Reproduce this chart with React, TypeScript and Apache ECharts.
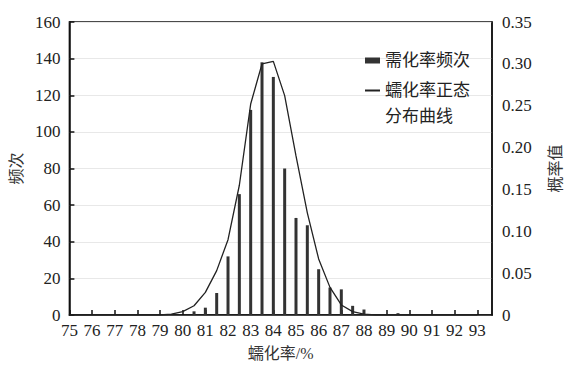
import React, { useEffect, useRef } from "react";
import * as echarts from "echarts";

const barX = [80.5, 81, 81.5, 82, 82.5, 83, 83.5, 84, 84.5, 85, 85.5, 86, 86.5, 87, 87.5, 88, 89.5];
const barY = [2, 4, 12, 32, 66, 112, 138, 130, 80, 53, 49, 25, 15, 14, 5, 3, 1];

const lineX = [75, 76, 77, 78, 79, 79.5, 80, 80.5, 81, 81.5, 82, 82.5, 83, 83.5, 84, 84.5, 85, 85.5, 86, 86.5, 87, 87.5, 88, 88.5, 89, 90, 91, 92, 93];
const lineY = [0, 0, 0, 0, 0, 0.001, 0.004, 0.011, 0.027, 0.053, 0.09, 0.155, 0.252, 0.3, 0.303, 0.262, 0.19, 0.122, 0.067, 0.033, 0.012, 0.004, 0.001, 0, 0, 0, 0, 0, 0];

const leftTicks = { min: 0, max: 160, interval: 20 };
const rightTicks = { min: 0, max: 0.35, interval: 0.05 };
const xRange = { min: 75, max: 93.65, interval: 1 };

const barName = "需化率频次";
const lineName = "蠕化率正态";
const lineName2 = "分布曲线";

const SERIF = "Times New Roman, Liberation Serif, DejaVu Serif, serif";
const CJK = "Times New Roman, Liberation Serif, Noto Sans CJK SC, serif";

export default function App() {
  const ref = useRef<HTMLDivElement>(null);
  useEffect(() => {
    if (!ref.current) return;
    const chart = echarts.init(ref.current, undefined, { renderer: "svg" });
    const axisColor = "#111";
    chart.setOption({
      animation: false,
      backgroundColor: "#fff",
      textStyle: { fontFamily: SERIF },
      grid: {
        left: 66,
        right: 79,
        top: 22,
        bottom: 56,
        show: true,
        borderColor: axisColor,
        borderWidth: 1.5,
        backgroundColor: "transparent",
      },
      legend: [
        {
          data: [{ name: barName, icon: "rect" }],
          left: 365,
          top: 52,
          padding: 0,
          itemWidth: 15,
          itemHeight: 6,
          itemGap: 4,
          textStyle: { fontFamily: CJK, fontSize: 17, color: "#222" },
        },
        {
          data: [{ name: lineName, icon: "rect", itemStyle: { color: "#222" } }],
          left: 365,
          top: 82,
          padding: 0,
          itemWidth: 15,
          itemHeight: 2,
          textStyle: { fontFamily: CJK, fontSize: 17, color: "#222" },
        },
      ],
      graphic: [
        {
          type: "text",
          left: 385,
          top: 108,
          style: { text: lineName2, fontFamily: CJK, fontSize: 17, fill: "#222" },
        },
      ],
      xAxis: {
        type: "value",
        min: xRange.min,
        max: xRange.max,
        interval: xRange.interval,
        name: "蠕化率/%",
        nameLocation: "middle",
        nameGap: 30,
        nameTextStyle: { fontFamily: CJK, fontSize: 16, color: "#333" },
        axisLine: { show: true, lineStyle: { color: axisColor, width: 1.5 } },
        axisTick: { show: true, inside: true, length: 5, lineStyle: { color: axisColor, width: 1.5 } },
        axisLabel: {
          show: true,
          interval: 0,
          margin: 7,
          showMaxLabel: false,
          fontFamily: SERIF,
          fontSize: 17,
          color: "#222",
          formatter: (v: number) => (Number.isInteger(v) ? String(v) : ""),
        },
        splitLine: { show: false },
      },
      yAxis: [
        {
          type: "value",
          position: "left",
          min: leftTicks.min,
          max: leftTicks.max,
          interval: leftTicks.interval,
          name: "频次",
          nameLocation: "middle",
          nameRotate: 90,
          nameGap: 43,
          nameTextStyle: { fontFamily: CJK, fontSize: 16, color: "#333" },
          axisLine: { show: true, lineStyle: { color: axisColor, width: 1.5 } },
          axisTick: { show: true, inside: true, length: 5, lineStyle: { color: axisColor, width: 1.5 } },
          axisLabel: { margin: 9, fontFamily: SERIF, fontSize: 17, color: "#222" },
          splitLine: { show: true, lineStyle: { color: "#e8e8e8", width: 1 } },
        },
        {
          type: "value",
          position: "right",
          min: rightTicks.min,
          max: rightTicks.max,
          interval: rightTicks.interval,
          name: "概率值",
          nameLocation: "middle",
          nameRotate: 90,
          nameGap: 55,
          nameTextStyle: { fontFamily: CJK, fontSize: 16, color: "#333", verticalAlign: "top" },
          axisLine: { show: true, lineStyle: { color: axisColor, width: 1.5 } },
          axisTick: { show: false },
          axisLabel: {
            margin: 10,
            fontFamily: SERIF,
            fontSize: 17,
            color: "#222",
            formatter: (v: number) => (v === 0 ? "0" : v.toFixed(2)),
          },
          splitLine: { show: false },
        },
      ],
      series: [
        {
          name: barName,
          type: "bar",
          xAxisIndex: 0,
          yAxisIndex: 0,
          barWidth: 3,
          itemStyle: { color: "#333" },
          data: barX.map((x, i) => [x, barY[i]]),
        },
        {
          name: lineName,
          type: "line",
          xAxisIndex: 0,
          yAxisIndex: 1,
          showSymbol: false,
          symbol: "none",
          smooth: false,
          lineStyle: { color: "#222", width: 1.3 },
          itemStyle: { color: "#222" },
          data: lineX.map((x, i) => [x, lineY[i]]),
        },
      ],
    });
    return () => chart.dispose();
  }, []);
  return (
    <div
      ref={ref}
      style={{ position: "absolute", left: 0, top: 0, width: 571, height: 371 }}
    />
  );
}
